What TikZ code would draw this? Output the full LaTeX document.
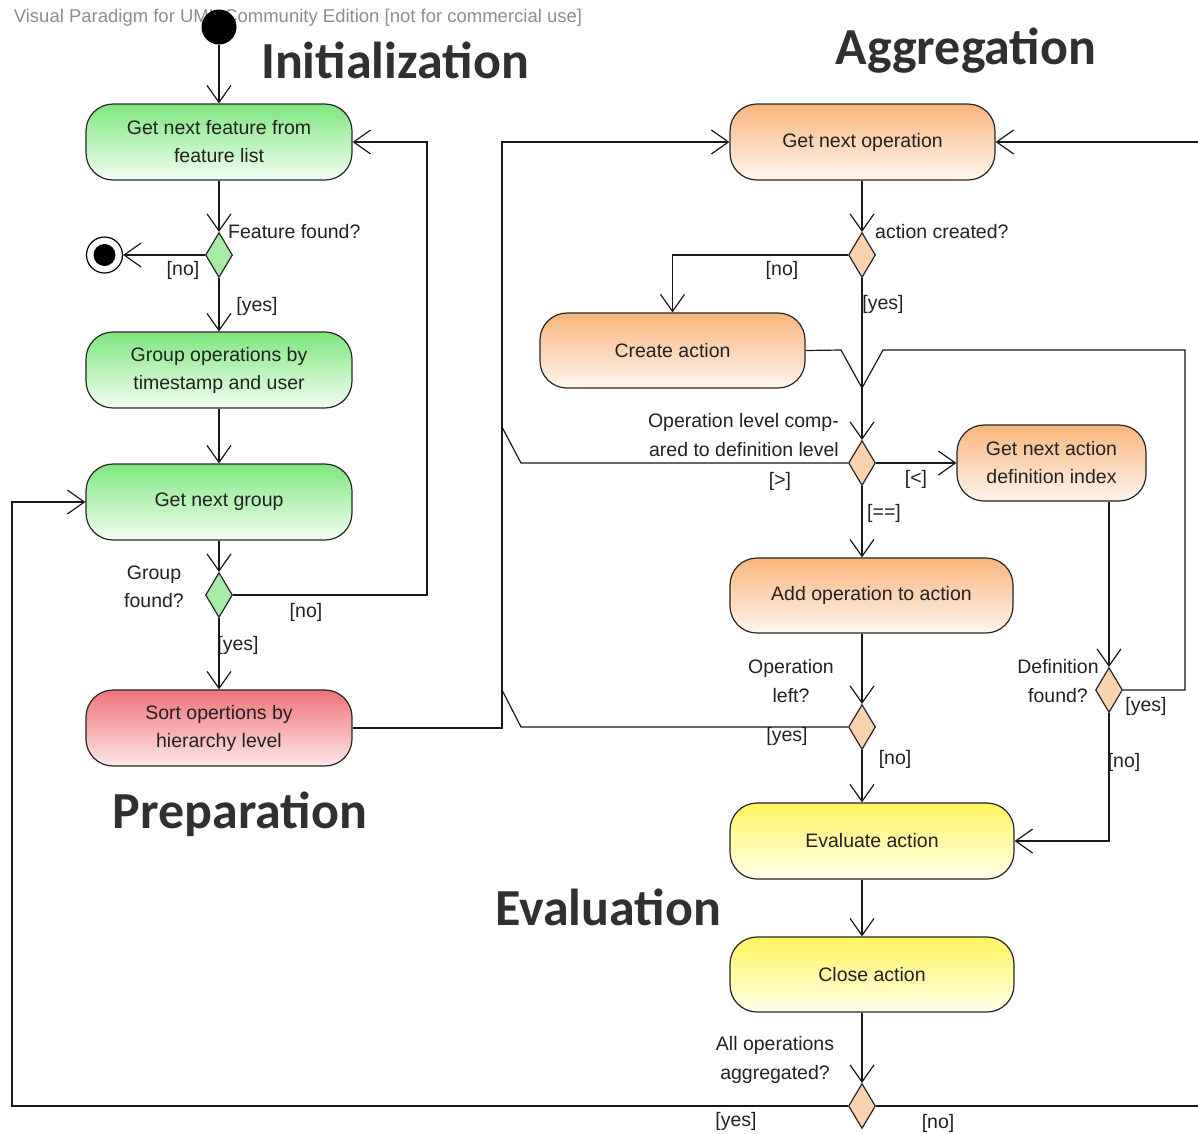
\documentclass[tikz,border=0pt]{standalone}
\usepackage{fontspec}
\setmainfont{Liberation Sans}
\newfontfamily\titlefont{Carlito}
\usetikzlibrary{arrows.meta,shapes.geometric}
\definecolor{gtop}{HTML}{7EE77E}
\definecolor{gbot}{HTML}{F2FFF2}
\definecolor{otop}{HTML}{F9B57C}
\definecolor{obot}{HTML}{FFF6EE}
\definecolor{rtop}{HTML}{F07378}
\definecolor{rbot}{HTML}{FCE8E8}
\definecolor{ytop}{HTML}{FFF45E}
\definecolor{ybot}{HTML}{FFFFEA}
\definecolor{gdia}{HTML}{A6EBA6}
\definecolor{odia}{HTML}{FAD2AE}
\definecolor{txt}{HTML}{222222}
\definecolor{wmark}{HTML}{8E8E8E}
\definecolor{ttlc}{HTML}{303030}
\begin{document}
\begin{tikzpicture}[x=1pt,y=-1pt,
  act/.style={draw=black!85, line width=1.2pt, rounded corners=27pt, minimum height=76pt,
    align=center, text=txt, inner sep=2pt, font=\fontsize{19.5}{28}\selectfont},
  gfill/.style={top color=gtop, bottom color=gbot},
  ofill/.style={top color=otop, bottom color=obot},
  rfill/.style={top color=rtop, bottom color=rbot},
  yfill/.style={top color=ytop, bottom color=ybot},
  dec/.style={diamond, draw=black!85, line width=1.2pt, minimum width=27pt, minimum height=45pt, inner sep=0pt},
  lbl/.style={text=txt, align=center, inner sep=0pt, font=\fontsize{19.5}{28.5}\selectfont},
  ttl/.style={anchor=base, text=ttlc, inner sep=0pt, font=\titlefont\bfseries\fontsize{52}{60}\selectfont},
  arr/.style={-{Straight Barb[length=17pt,width=24pt,line width=1.2pt]}},
  conn/.style={line width=1.2pt, black!90, line join=miter},
  startnode/.style={circle, fill=black, minimum size=35pt, inner sep=0pt},
  endnode/.style={circle, draw=black, line width=1.2pt, fill=white, minimum size=36pt, inner sep=0pt,
    path picture={\fill[black] (path picture bounding box.center) circle (11pt);}}
]
\useasboundingbox[fill=white] (0,0) rectangle (1198,1133);

% watermark
\node[text=wmark, inner sep=0pt, font=\fontsize{18.5}{20}\selectfont] (wm) at (298,18) {Visual Paradigm for UML Community Edition [not for commercial use]};

% titles
\node[ttl] (tinit) at (395,78) {Initialization};
\node[ttl] (tagg) at (966,64) {Aggregation};
\node[ttl] (tprep) at (240,828) {Preparation};
\node[ttl] (teval) at (608,925) {Evaluation};

% start / end
\node[startnode] (start) at (219,27) {};
\node[endnode] (end) at (104.5,255) {};

% left column
\node[act,gfill,minimum width=266pt] (gnf) at (219,142) {Get next feature from\\feature list};
\node[dec,fill=gdia] (d1) at (219,255) {};
\node[act,gfill,minimum width=266pt] (got) at (219,370) {Group operations by\\timestamp and user};
\node[act,gfill,minimum width=266pt] (gng) at (219,502) {Get next group};
\node[dec,fill=gdia] (d2) at (219,595) {};
\node[act,rfill,minimum width=266pt] (sort) at (219,728) {Sort opertions by\\hierarchy level};

% right column
\node[act,ofill,minimum width=265pt] (gno) at (862.5,142) {Get next operation};
\node[dec,fill=odia] (d3) at (862,255) {};
\node[act,ofill,minimum width=265pt,minimum height=75pt] (ca) at (672.5,350.5) {Create action};
\node[dec,fill=odia] (d4) at (862,463) {};
\node[act,ofill,minimum width=189pt] (gna) at (1051.5,463) {Get next action\\definition index};
\node[act,ofill,minimum width=283pt,minimum height=75pt] (aop) at (871.5,595.5) {Add operation to action};
\node[dec,fill=odia] (d5) at (862,727) {};
\node[dec,fill=odia] (d6) at (1109,690) {};
\node[act,yfill,minimum width=284pt] (eva) at (872,841) {Evaluate action};
\node[act,yfill,minimum width=284pt,minimum height=75pt] (cla) at (872,974.5) {Close action};
\node[dec,fill=odia] (d7) at (862,1106) {};

% labels
\node[lbl,anchor=west] (lff) at (228,232) {Feature found?};
\node[lbl] (lno1) at (183,270) {[no]};
\node[lbl] (lyes1) at (257,306) {[yes]};
\node[lbl] (lgf) at (154,587) {Group\\found?};
\node[lbl] (lno2) at (306,612) {[no]};
\node[lbl] (lyes2) at (238,645) {[yes]};
\node[lbl,anchor=west] (lac) at (875,232) {action created?};
\node[lbl] (lno3) at (782,270) {[no]};
\node[lbl] (lyes3) at (883,304) {[yes]};
\node[lbl,anchor=east,align=right] (lolc) at (839,435) {Operation level comp-\\ared to definition level};
\node[lbl] (lgt) at (780,481) {[>]};
\node[lbl] (llt) at (916,479) {[<]};
\node[lbl] (leq) at (884,513) {[==]};
\node[lbl] (lol) at (791,681) {Operation\\left?};
\node[lbl] (lyes4) at (787,736) {[yes]};
\node[lbl] (lno4) at (895,759) {[no]};
\node[lbl] (ldf) at (1058,681) {Definition\\found?};
\node[lbl] (lyes5) at (1146,706) {[yes]};
\node[lbl] (lno5) at (1124,762) {[no]};
\node[lbl] (lao) at (775,1060) {All operations\\aggregated?};
\node[lbl] (lyes6) at (736,1121) {[yes]};
\node[lbl] (lno6) at (938,1123) {[no]};

% connectors
\begin{scope}[conn]
\draw[arr] (start) -- (gnf);
\draw[arr] (gnf) -- (d1);
\draw[arr] (d1) -- (end);
\draw[arr] (d1) -- (got);
\draw[arr] (got) -- (gng);
\draw[arr] (gng) -- (d2);
\draw[arr] (d2.east) -- (427,595) -- (427,142) -- (gnf.east);
\draw[arr] (d2) -- (sort);
\draw[arr] (sort.east) -- (502,728) -- (502,142) -- (gno.west);
\draw[arr] (d3 |- gno.south) -- (d3.north);
\draw[arr] (d3.west) -| (ca.north);
\draw[arr] (d3.south) -- (d4.north);
\draw (ca.east) -- (841,350) -- (862,388);
\draw[arr] (d4.east) -- (gna.west);
\draw (d4.west) -- (521,463) -- (502,427);
\draw[arr] (d4.south) -- (d4.south |- aop.north);
\draw[arr] (d5 |- aop.south) -- (d5.north);
\draw (d5.west) -- (521,727) -- (502,690);
\draw[arr] (d5.south) -- (d5.south |- eva.north);
\draw[arr] (d6 |- gna.south) -- (d6.north);
\draw (d6.east) -- (1185,690) -- (1185,350) -- (883,350) -- (862,388);
\draw[arr] (d6.south) |- (eva.east);
\draw[arr] (d7 |- eva.south) -- (d7 |- cla.north);
\draw[arr] (d7 |- cla.south) -- (d7.north);
\draw[arr] (d7.west) -- (12,1106) -- (12,502) -- (gng.west);
\draw[arr] (d7.east) -- (1215,1106) -- (1215,142) -- (gno.east);
\end{scope}
\end{tikzpicture}
\end{document}
